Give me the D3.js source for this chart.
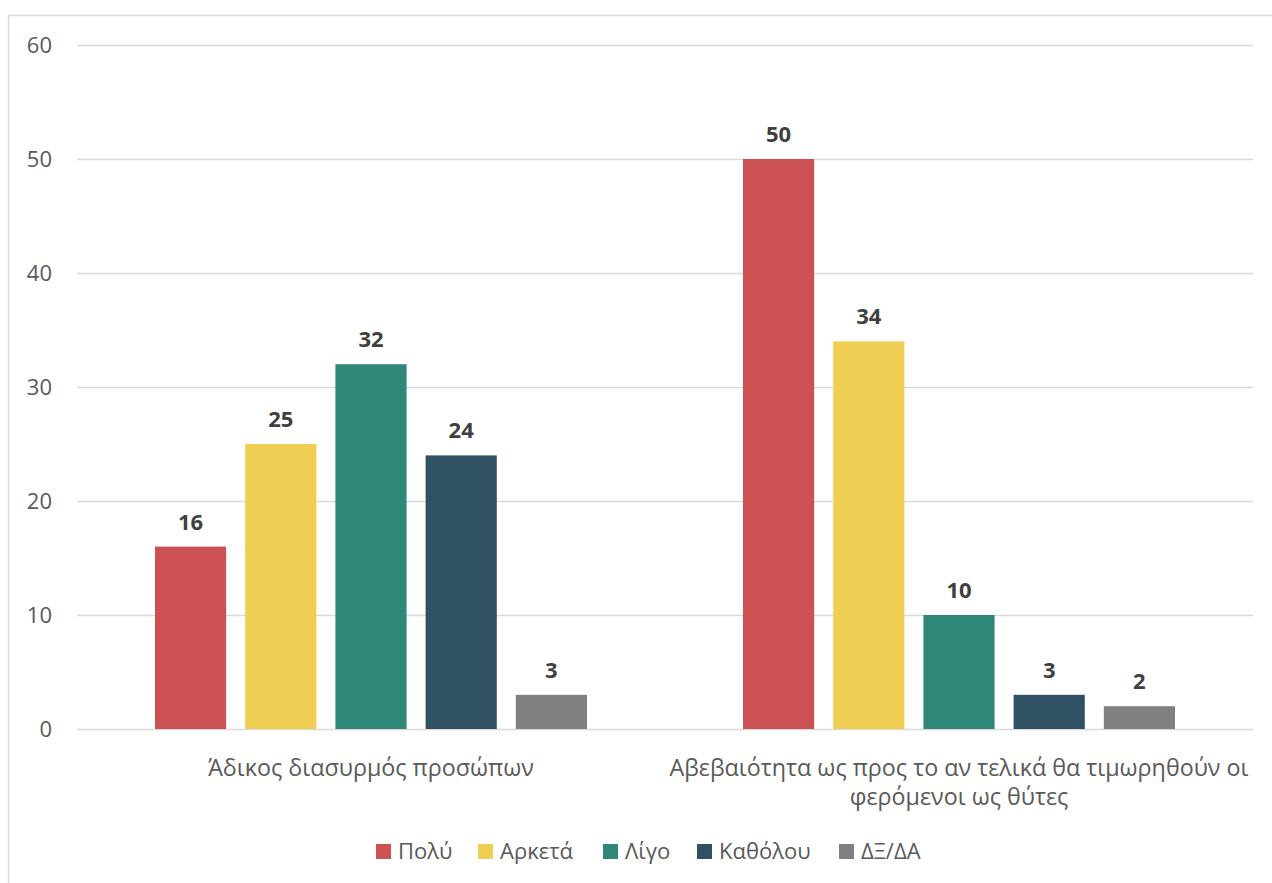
<!DOCTYPE html>
<html><head><meta charset="utf-8">
<script src="https://cdn.jsdelivr.net/npm/d3@7/dist/d3.min.js"></script>
<style>
body{margin:0;background:#fff;}
svg{display:block;font-family:"Open Sans",sans-serif;}
</style></head>
<body>
<svg id="chart" width="1272" height="883"></svg>
<script>
const categories = ["Άδικος διασυρμός προσώπων", "Αβεβαιότητα ως προς το αν τελικά θα τιμωρηθούν οι φερόμενοι ως θύτες"];
const categoryLines = [["Άδικος διασυρμός προσώπων"], ["Αβεβαιότητα ως προς το αν τελικά θα τιμωρηθούν οι", "φερόμενοι ως θύτες"]];
const seriesNames = ["Πολύ", "Αρκετά", "Λίγο", "Καθόλου", "ΔΞ/ΔΑ"];
const seriesColors = ["#CB5153", "#F0CD53", "#2F8779", "#305063", "#808080"];
const valuesPolu = [16, 50];
const valuesArketa = [25, 34];
const valuesLigo = [32, 10];
const valuesKatholou = [24, 3];
const valuesDXDA = [3, 2];
const seriesValues = [valuesPolu, valuesArketa, valuesLigo, valuesKatholou, valuesDXDA];
const yTicks = [0, 10, 20, 30, 40, 50, 60];

(function(){
const svg = d3.select("#chart");
svg.append("rect").attr("x", 8.5).attr("y", 15.5).attr("width", 1300).attr("height", 900)
  .attr("fill", "#fff").attr("stroke", "#d9d9d9").attr("stroke-width", 1.5);

const pLeft = 77, pRight = 1253, pTop = 45, pBottom = 729;
const y = d3.scaleLinear().domain([0, 60]).range([pBottom, pTop]);
const x0 = d3.scaleBand().domain(categories).range([pLeft, pRight]).padding(0);
const x1 = d3.scaleBand().domain(seriesNames).range([78, 510]).paddingInner(0.211).paddingOuter(0);

svg.append("g").selectAll("line").data(yTicks).join("line")
  .attr("x1", pLeft).attr("x2", pRight)
  .attr("y1", d => y(d) + 0.5).attr("y2", d => y(d) + 0.5)
  .attr("stroke", "#d9d9d9").attr("stroke-width", 1.3);

const yAxis = d3.axisLeft(y).tickValues(yTicks).tickSize(0).tickPadding(0);
const ga = svg.append("g").attr("transform", `translate(52,0)`).call(yAxis);
ga.select(".domain").remove();
ga.selectAll("text").attr("font-size", 22).attr("fill", "#595959").attr("font-family", "Open Sans, sans-serif");

const groups = svg.append("g").selectAll("g").data(categories).join("g")
  .attr("transform", d => `translate(${x0(d)},0)`);
groups.each(function(cat, ci) {
  const g = d3.select(this);
  seriesNames.forEach((s, si) => {
    const v = seriesValues[si][ci];
    g.append("rect").attr("x", x1(s)).attr("width", x1.bandwidth())
      .attr("y", y(v)).attr("height", y(0) - y(v)).attr("fill", seriesColors[si]);
    g.append("text").attr("x", x1(s) + x1.bandwidth() / 2).attr("y", y(v) - 17)
      .attr("text-anchor", "middle").attr("font-size", 22).attr("font-weight", "bold")
      .attr("fill", "#404040").text(v);
  });
});

categories.forEach((c, ci) => {
  const cx = x0(c) + x0.bandwidth() / 2;
  const t = svg.append("text").attr("text-anchor", "middle").attr("font-size", 23.3).attr("fill", "#595959");
  categoryLines[ci].forEach((line, li) => {
    t.append("tspan").attr("x", cx).attr("y", 776 + li * 29).text(line);
  });
});

const legendX = [376, 478, 603, 697, 839];
const lg = svg.append("g");
seriesNames.forEach((s, i) => {
  lg.append("rect").attr("x", legendX[i]).attr("y", 844).attr("width", 15).attr("height", 15).attr("fill", seriesColors[i]);
  lg.append("text").attr("x", legendX[i] + 22).attr("y", 859).attr("font-size", 22).attr("fill", "#595959").text(s);
});
})();
</script>
</body></html>
